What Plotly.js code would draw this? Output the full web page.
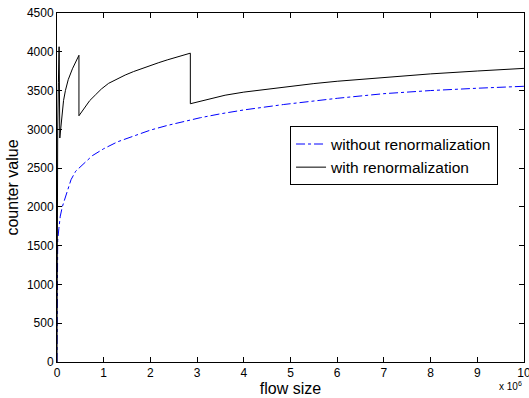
<!DOCTYPE html>
<html>
<head>
<meta charset="utf-8">
<script src="https://cdn.plot.ly/plotly-3.0.1.min.js"></script>
<style>html,body{margin:0;padding:0;background:#fff;}#chart{width:529px;height:398px;}</style>
</head>
<body>
<div id="chart"></div>
<script>
// flow size in units of 10^6
const flowWithout = [0, 0.001, 0.003, 0.007, 0.015, 0.04, 0.07, 0.113, 0.15, 0.22, 0.3, 0.4, 0.5, 0.578, 0.756, 1.0, 1.3, 1.64, 2.0, 2.36, 2.85, 3.07, 3.5, 4.0, 4.85, 5.5, 6.0, 7.0, 8.0, 9.0, 10.0];
const counterWithout = [0, 700, 1100, 1400, 1570, 1720, 1880, 2000, 2070, 2230, 2350, 2460, 2510, 2560, 2660, 2750, 2840, 2910, 2990, 3050, 3120, 3150, 3200, 3250, 3320, 3370, 3400, 3460, 3500, 3530, 3555];

const flowWith = [0, 0.005, 0.015, 0.03, 0.045, 0.06, 0.075, 0.09, 0.11, 0.14, 0.18, 0.24, 0.33, 0.4, 0.47,
  0.47, 0.52, 0.607, 0.7, 0.82, 0.95, 1.105, 1.28, 1.46, 1.64, 1.82, 2.0, 2.18, 2.36, 2.53, 2.7, 2.855,
  2.855, 3.2, 3.6, 4.0, 4.85, 5.5, 6.0, 7.0, 8.0, 9.0, 10.0];
const counterWith = [0, 2000, 3000, 3600, 4065, 2888, 3000, 3100, 3220, 3370, 3500, 3640, 3780, 3870, 3955,
  3175, 3220, 3292, 3370, 3442, 3520, 3593, 3650, 3700, 3745, 3786, 3825, 3860, 3895, 3927, 3955, 3982,
  3330, 3385, 3440, 3480, 3545, 3590, 3620, 3670, 3715, 3752, 3786];

const xTicks = [0,1,2,3,4,5,6,7,8,9,10];
const yTicks = [0,500,1000,1500,2000,2500,3000,3500,4000,4500];

const FONT = 'Liberation Sans, Arial, sans-serif';

const traces = [
  {x: flowWithout, y: counterWithout, mode: 'lines', name: 'without renormalization',
   line: {color: '#0000ff', width: 1, dash: 'dashdot'}},
  {x: flowWith, y: counterWith, mode: 'lines', name: 'with renormalization',
   line: {color: '#000000', width: 1}}
];

const axisCommon = {
  automargin: false,
  showgrid: false, zeroline: false, showline: true, linecolor: '#000', linewidth: 1,
  mirror: 'ticks', ticks: 'inside', ticklen: 5, tickcolor: '#000', tickwidth: 1,
  ticklabeloverflow: 'allow',
  tickfont: {family: FONT, size: 12, color: '#000'}
};

const layout = {
  width: 529, height: 398,
  margin: {l: 57, r: 5, t: 13, b: 36},
  paper_bgcolor: '#fff', plot_bgcolor: '#fff',
  showlegend: true,
  legend: {x: 0.499, y: 0.675, xanchor: 'left', yanchor: 'top', bgcolor: '#fff',
    bordercolor: '#000', borderwidth: 1,
    font: {family: FONT, size: 15.5, color: '#000'},
    tracegroupgap: 0, itemwidth: 30},
  xaxis: Object.assign({}, axisCommon, {range: [0, 10], tickvals: xTicks, ticktext: xTicks.map(String),
    title: {text: 'flow size', font: {family: FONT, size: 16, color: '#000'}, standoff: 0}}),
  yaxis: Object.assign({}, axisCommon, {range: [0, 4500], tickvals: yTicks, ticktext: yTicks.map(String),
    title: {text: 'counter value', font: {family: FONT, size: 16, color: '#000'}, standoff: 4}}),
  annotations: [{xref: 'paper', yref: 'paper', x: 1.0, y: -0.07, xanchor: 'right', yanchor: 'middle',
    text: 'x 10<sup>6</sup>', showarrow: false,
    font: {family: FONT, size: 10, color: '#000'}}]
};

Plotly.newPlot('chart', traces, layout, {displayModeBar: false, staticPlot: true});
</script>
</body>
</html>
